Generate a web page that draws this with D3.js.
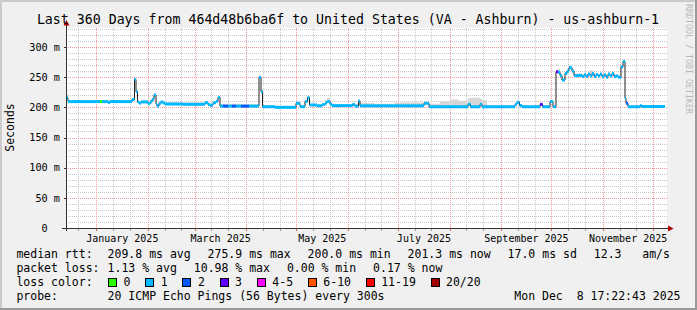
<!doctype html>
<html lang="en">
<head>
<meta charset="utf-8">
<title>Last 360 Days - us-ashburn-1</title>
<style>
  body { margin: 0; background: #f0f0f0; }
  svg text { font-family: "DejaVu Sans Mono", monospace; fill: #000; white-space: pre; }
</style>
</head>
<body>
<svg id="chart" width="697" height="310" xml:space="preserve"></svg>
<script src="https://cdn.jsdelivr.net/npm/d3@7"></script>
<script>
var title = "Last 360 Days from 464d48b6ba6f to United States (VA - Ashburn) - us-ashburn-1";
var startTime = new Date(2024, 11, 13, 17, 22, 43);
var endTime = new Date(2025, 11, 8, 17, 22, 43);
var lastDay = 359.4;

// days since start, median rtt (ms), loss bin, top of smoke (ms)
var days = [0, 1.2, 20.4, 21.6, 25.2, 26.4, 39.6, 41.1, 42, 42.9, 43.8, 45, 49.2, 50.4, 51.6, 52.8,
  54, 54.6, 55.8, 57, 58.2, 59.4, 70, 83.4, 85.2, 86.4, 88.2, 90, 91.2, 92.4, 94.2, 97.2, 99.6, 102,
  105, 109.8, 115.8, 117, 117.9, 125.4, 138, 140.4, 143.4, 144.9, 146.1, 150.6, 153.6, 155.4, 156.6,
  158.4, 159.6, 171.9, 173.4, 175.5, 176.4, 184.8, 196.8, 214.8, 217.8, 224.4, 230.4, 235.2, 241.2,
  242.7, 248.4, 249.6, 250.8, 252.6, 269.4, 270.6, 272.1, 273.6, 284.4, 285.9, 290.4, 292.2, 294,
  295.2, 296.4, 297.6, 299.4, 300.6, 301.8, 303.6, 304.8, 307.2, 309.6, 310.8, 312, 313.2, 314.4,
  315.6, 316.8, 318, 319.2, 320.4, 321.6, 322.8, 324, 325.2, 326.4, 327.6, 328.8, 330, 331.2, 332.4,
  333, 334.2, 335.4, 336, 337.2, 344.4, 345.3];
var median = [216, 209.5, 209.5, 209.5, 208, 209.5, 213, 246.5, 226, 209, 207, 209, 206, 209, 213, 220.5,
  206, 202, 206.7, 209, 207, 205.5, 205, 207.7, 204.5, 203.5, 207.7, 210, 216.6, 202, 202, 202, 202, 202,
  202, 202, 249.8, 226, 201, 200, 206.7, 201, 209.6, 216, 203.9, 202.5, 204.5, 207, 209.6,
  205, 202.8, 204.5, 202, 210.5, 202.5, 202.5, 202.5, 206.7, 201, 201, 201, 201, 205,
  201, 205, 200.5, 201, 201, 205, 208.4, 203, 201, 205, 201, 209.6, 201, 259,
  258, 252.5, 245.3, 256, 260, 265.7, 260, 252.5, 253, 251, 254, 251, 255, 252,
  256, 251, 254, 252, 255, 251, 254, 250, 255, 252, 256, 251, 252, 250, 249,
  267, 275.9, 215, 206.7, 201, 203, 201.3];
var loss = [1, 1, 0, 1, 1, 1, 1, 1, 1, 1, 1, 1, 1, 1, 1, 1,
  1, 1, 1, 1, 1, 1, 1, 1, 1, 1, 1, 1, 1, 1, 2, 1, 2, 1,
  2, 1, 1, 1, 1, 1, 1, 1, 1, 1, 1, 1, 1, 1, 1,
  1, 1, 1, 1, 1, 1, 1, 1, 1, 1, 1, 1, 1, 1,
  1, 1, 1, 1, 1, 1, 1, 1, 1, 3, 1, 1, 1, 3,
  1, 1, 1, 1, 1, 1, 1, 1, 1, 1, 1, 1, 1, 1,
  1, 1, 1, 1, 1, 1, 1, 1, 1, 1, 1, 1, 1, 1, 1,
  1, 1, 1, 2, 1, 1, 1];
var smoke = [222, 211, 211, 211, 212, 211, 215, 248, 228, 211, 209, 211, 208, 211, 215, 222,
  208, 204, 208, 210, 209, 208, 208, 209, 207, 206, 209, 212, 218, 206, 206, 206, 206, 206,
  205, 205, 251, 228, 204, 202, 208, 204, 211, 218, 206, 205, 206, 212, 215,
  209, 205, 206, 205, 212, 207, 206, 208, 208, 206, 210, 213, 211, 215,
  216, 214, 212, 212, 203, 207, 210, 205, 203, 207, 203, 211, 203, 262,
  264, 256, 249, 259, 263, 268, 263, 256, 256, 255, 257, 255, 260, 262,
  261, 256, 257, 255, 258, 254, 257, 253, 258, 255, 259, 254, 255, 253, 252,
  270, 278, 218, 209, 203, 205, 203];

var yMax = 331.5;
var yTickValues = [0, 50, 100, 150, 200, 250, 300];
var yTickLabels = ["0  ", "50 m", "100 m", "150 m", "200 m", "250 m", "300 m"];
var monthLabelDates = [new Date(2025, 0, 1), new Date(2025, 2, 1), new Date(2025, 4, 1),
  new Date(2025, 6, 1), new Date(2025, 8, 1), new Date(2025, 10, 1)];

var lossLabels = ["0", "1", "2", "3", "4-5", "6-10", "11-19", "20/20"];
var lossColors = ["#26ff00", "#00b8ff", "#0059ff", "#5e00ff", "#ff00ff", "#ff5500", "#ff0000", "#a10000"];

var rttStats = ["209.8 ms avg", "275.9 ms max", "200.0 ms min", "201.3 ms now", "17.0 ms sd", "12.3   am/s"];
var lossStats = ["1.13 % avg", "10.98 % max", "0.00 % min", "0.17 % now"];
var probeText = "20 ICMP Echo Pings (56 Bytes) every 300s";
var stampText = "Mon Dec  8 17:22:43 2025";

(function() {
  var W = 697, H = 310;
  var left = 66, right = 666, top = 28, bottom = 228;
  var cw = 6.9;         // legend char width
  var gap = 17.2;       // gap between legend items

  var svg = d3.select("#chart");

  var x = d3.scaleTime().domain([startTime, endTime]).range([left, right]);
  var y = d3.scaleLinear().domain([0, yMax]).range([bottom, top]);
  var toDate = function(d) { return new Date(+startTime + d * 864e5); };
  var px = function(v) { return Math.round(v) + 0.5; };

  // background + frame shading
  svg.append("rect").attr("width", W).attr("height", H).attr("fill", "#f0f0f0");
  svg.append("rect").attr("x", 0).attr("y", 0).attr("width", W).attr("height", 2).attr("fill", "#cbcbcb");
  svg.append("rect").attr("x", 0).attr("y", 0).attr("width", 2).attr("height", H).attr("fill", "#cbcbcb");
  svg.append("rect").attr("x", 0).attr("y", H - 2).attr("width", W).attr("height", 2).attr("fill", "#999");
  svg.append("rect").attr("x", W - 2).attr("y", 0).attr("width", 2).attr("height", H).attr("fill", "#999");
  svg.append("rect").attr("x", left).attr("y", top).attr("width", right - left + 1)
    .attr("height", bottom - top).attr("fill", "#fff");

  // grid
  var grid = svg.append("g").attr("shape-rendering", "crispEdges").attr("stroke-dasharray", "1,1");
  var yMinor = d3.range(10, yMax, 10).filter(function(v) { return v % 50 !== 0; });
  var yMajor = d3.range(50, yMax, 50);
  var months = d3.timeMonth.range(startTime, endTime);
  var minorDates = [];
  d3.timeMonth.range(d3.timeMonth.floor(startTime), endTime).forEach(function(m) {
    [11, 21].forEach(function(dd) {
      var t = new Date(m.getFullYear(), m.getMonth(), dd);
      if (t > startTime && t < endTime) minorDates.push(t);
    });
  });

  grid.selectAll(".ymin").data(yMinor).enter().append("line")
    .attr("x1", left).attr("x2", right + 1)
    .attr("y1", function(d) { return px(y(d)); }).attr("y2", function(d) { return px(y(d)); })
    .attr("stroke", "#c8c8c8");
  grid.selectAll(".xmin").data(minorDates).enter().append("line")
    .attr("y1", top).attr("y2", bottom)
    .attr("x1", function(d) { return px(x(d)); }).attr("x2", function(d) { return px(x(d)); })
    .attr("stroke", "#c8c8c8");
  grid.selectAll(".ymaj").data(yMajor).enter().append("line")
    .attr("x1", left).attr("x2", right + 1)
    .attr("y1", function(d) { return px(y(d)); }).attr("y2", function(d) { return px(y(d)); })
    .attr("stroke", "#f09a9a");
  grid.selectAll(".xmaj").data(months).enter().append("line")
    .attr("y1", top).attr("y2", bottom)
    .attr("x1", function(d) { return px(x(d)); }).attr("x2", function(d) { return px(x(d)); })
    .attr("stroke", "#f09a9a");

  // data points, with the end of the last step
  var pts = days.map(function(d, i) {
    return { t: toDate(d), m: median[i], l: loss[i], s: smoke[i] };
  });
  var ends = pts.map(function(p, i) { return i < pts.length - 1 ? pts[i + 1].t : toDate(lastDay); });
  var stepPts = pts.concat([{ t: toDate(lastDay), m: median[median.length - 1], s: smoke[smoke.length - 1] }]);

  // smoke
  svg.append("path")
    .datum(stepPts)
    .attr("fill", "#d6d6d6")
    .attr("d", d3.area().curve(d3.curveStepAfter)
      .x(function(d) { return x(d.t); })
      .y0(function(d) { return y(d.m); })
      .y1(function(d) { return y(d.s); }));

  // thin median line
  svg.append("path")
    .datum(stepPts)
    .attr("fill", "none")
    .attr("stroke", "#202020")
    .attr("stroke-width", 1)
    .attr("d", d3.line().curve(d3.curveStepAfter)
      .x(function(d) { return x(d.t); })
      .y(function(d) { return y(d.m); }));

  // loss coloured median band
  svg.append("g").selectAll("rect").data(pts).enter().append("rect")
    .attr("x", function(d) { return x(d.t); })
    .attr("width", function(d, i) { return Math.max(1, x(ends[i]) - x(d.t)); })
    .attr("y", function(d) { return y(d.m) - 1.5; })
    .attr("height", 3)
    .attr("fill", function(d) { return lossColors[d.l]; });

  // axes
  var axes = svg.append("g").attr("shape-rendering", "crispEdges");
  axes.append("line").attr("x1", 62).attr("x2", 669).attr("y1", bottom + 0.5).attr("y2", bottom + 0.5)
    .attr("stroke", "#333");
  axes.append("line").attr("x1", left + 0.5).attr("x2", left + 0.5).attr("y1", bottom + 3).attr("y2", 24)
    .attr("stroke", "#333");
  axes.selectAll(".yt").data(yTickValues).enter().append("line")
    .attr("x1", left - 2).attr("x2", left)
    .attr("y1", function(d) { return px(y(d)); }).attr("y2", function(d) { return px(y(d)); })
    .attr("stroke", "#333");
  axes.selectAll(".xtmin").data(minorDates).enter().append("line")
    .attr("y1", bottom + 1).attr("y2", bottom + 3)
    .attr("x1", function(d) { return px(x(d)); }).attr("x2", function(d) { return px(x(d)); })
    .attr("stroke", "#999");
  axes.selectAll(".xtmaj").data(months).enter().append("line")
    .attr("y1", bottom + 1).attr("y2", bottom + 3)
    .attr("x1", function(d) { return px(x(d)); }).attr("x2", function(d) { return px(x(d)); })
    .attr("stroke", "#e06060");
  svg.append("path").attr("d", "M63.5,25.5L69.5,25.5L66.5,20Z").attr("fill", "#b00000");
  svg.append("path").attr("d", "M668,225.5L668,231.5L673.5,228.5Z").attr("fill", "#b00000");

  // y labels
  svg.selectAll(".ylab").data(yTickValues).enter().append("text")
    .attr("x", 60).attr("y", function(d) { return y(d) + 3.7; })
    .attr("text-anchor", "end").style("font-size", "10.2px")
    .text(function(d, i) { return yTickLabels[i]; });

  // x labels, centred on the month
  var fmt = d3.timeFormat("%B %Y");
  svg.selectAll(".xlab").data(monthLabelDates).enter().append("text")
    .attr("x", function(d) { return (x(d) + x(d3.timeMonth.offset(d, 1))) / 2; })
    .attr("y", 241.5).attr("text-anchor", "middle").style("font-size", "10px")
    .text(function(d) { return fmt(d); });

  // title, y title, watermark
  svg.append("text").attr("x", 348).attr("y", 24).attr("text-anchor", "middle")
    .style("font-size", "13.25px").text(title);
  svg.append("text").attr("transform", "translate(14,127.5) rotate(-90)")
    .attr("text-anchor", "middle").style("font-size", "11.5px").text("Seconds");
  svg.append("text").attr("transform", "translate(685.5,4) rotate(90)")
    .style("font-size", "8.3px").style("fill", "#b8b8b8").text("RRDTOOL / TOBI OETIKER");

  // legend
  var lg = svg.append("g").style("font-size", "11.5px");
  var col = 107.6, rows = [258, 272, 286, 300];
  lg.append("text").attr("x", 16.4).attr("y", rows[0]).text("median rtt:");
  lg.append("text").attr("x", 16.4).attr("y", rows[1]).text("packet loss:");
  lg.append("text").attr("x", 16.4).attr("y", rows[2]).text("loss color:");
  lg.append("text").attr("x", 16.4).attr("y", rows[3]).text("probe:");

  var xs = col;
  rttStats.forEach(function(s) {
    lg.append("text").attr("x", xs).attr("y", rows[0]).text(s);
    xs += s.length * cw + gap;
  });
  xs = col;
  lossStats.forEach(function(s) {
    lg.append("text").attr("x", xs).attr("y", rows[1]).text(s);
    xs += s.length * cw + gap;
  });
  var bx = 108;
  lossLabels.forEach(function(s, i) {
    lg.append("rect").attr("x", bx + 0.5).attr("y", rows[2] - 7.5).attr("width", 8).attr("height", 8)
      .attr("fill", lossColors[i]).attr("stroke", "#000").attr("shape-rendering", "crispEdges");
    lg.append("text").attr("x", bx + 15.5).attr("y", rows[2]).text(s);
    bx = bx + 15.5 + s.length * cw + 14.8;
  });
  lg.append("text").attr("x", col).attr("y", rows[3]).text(probeText);
  lg.append("text").attr("x", 680.5).attr("y", rows[3]).attr("text-anchor", "end").text(stampText);
})();
</script>
</body>
</html>
